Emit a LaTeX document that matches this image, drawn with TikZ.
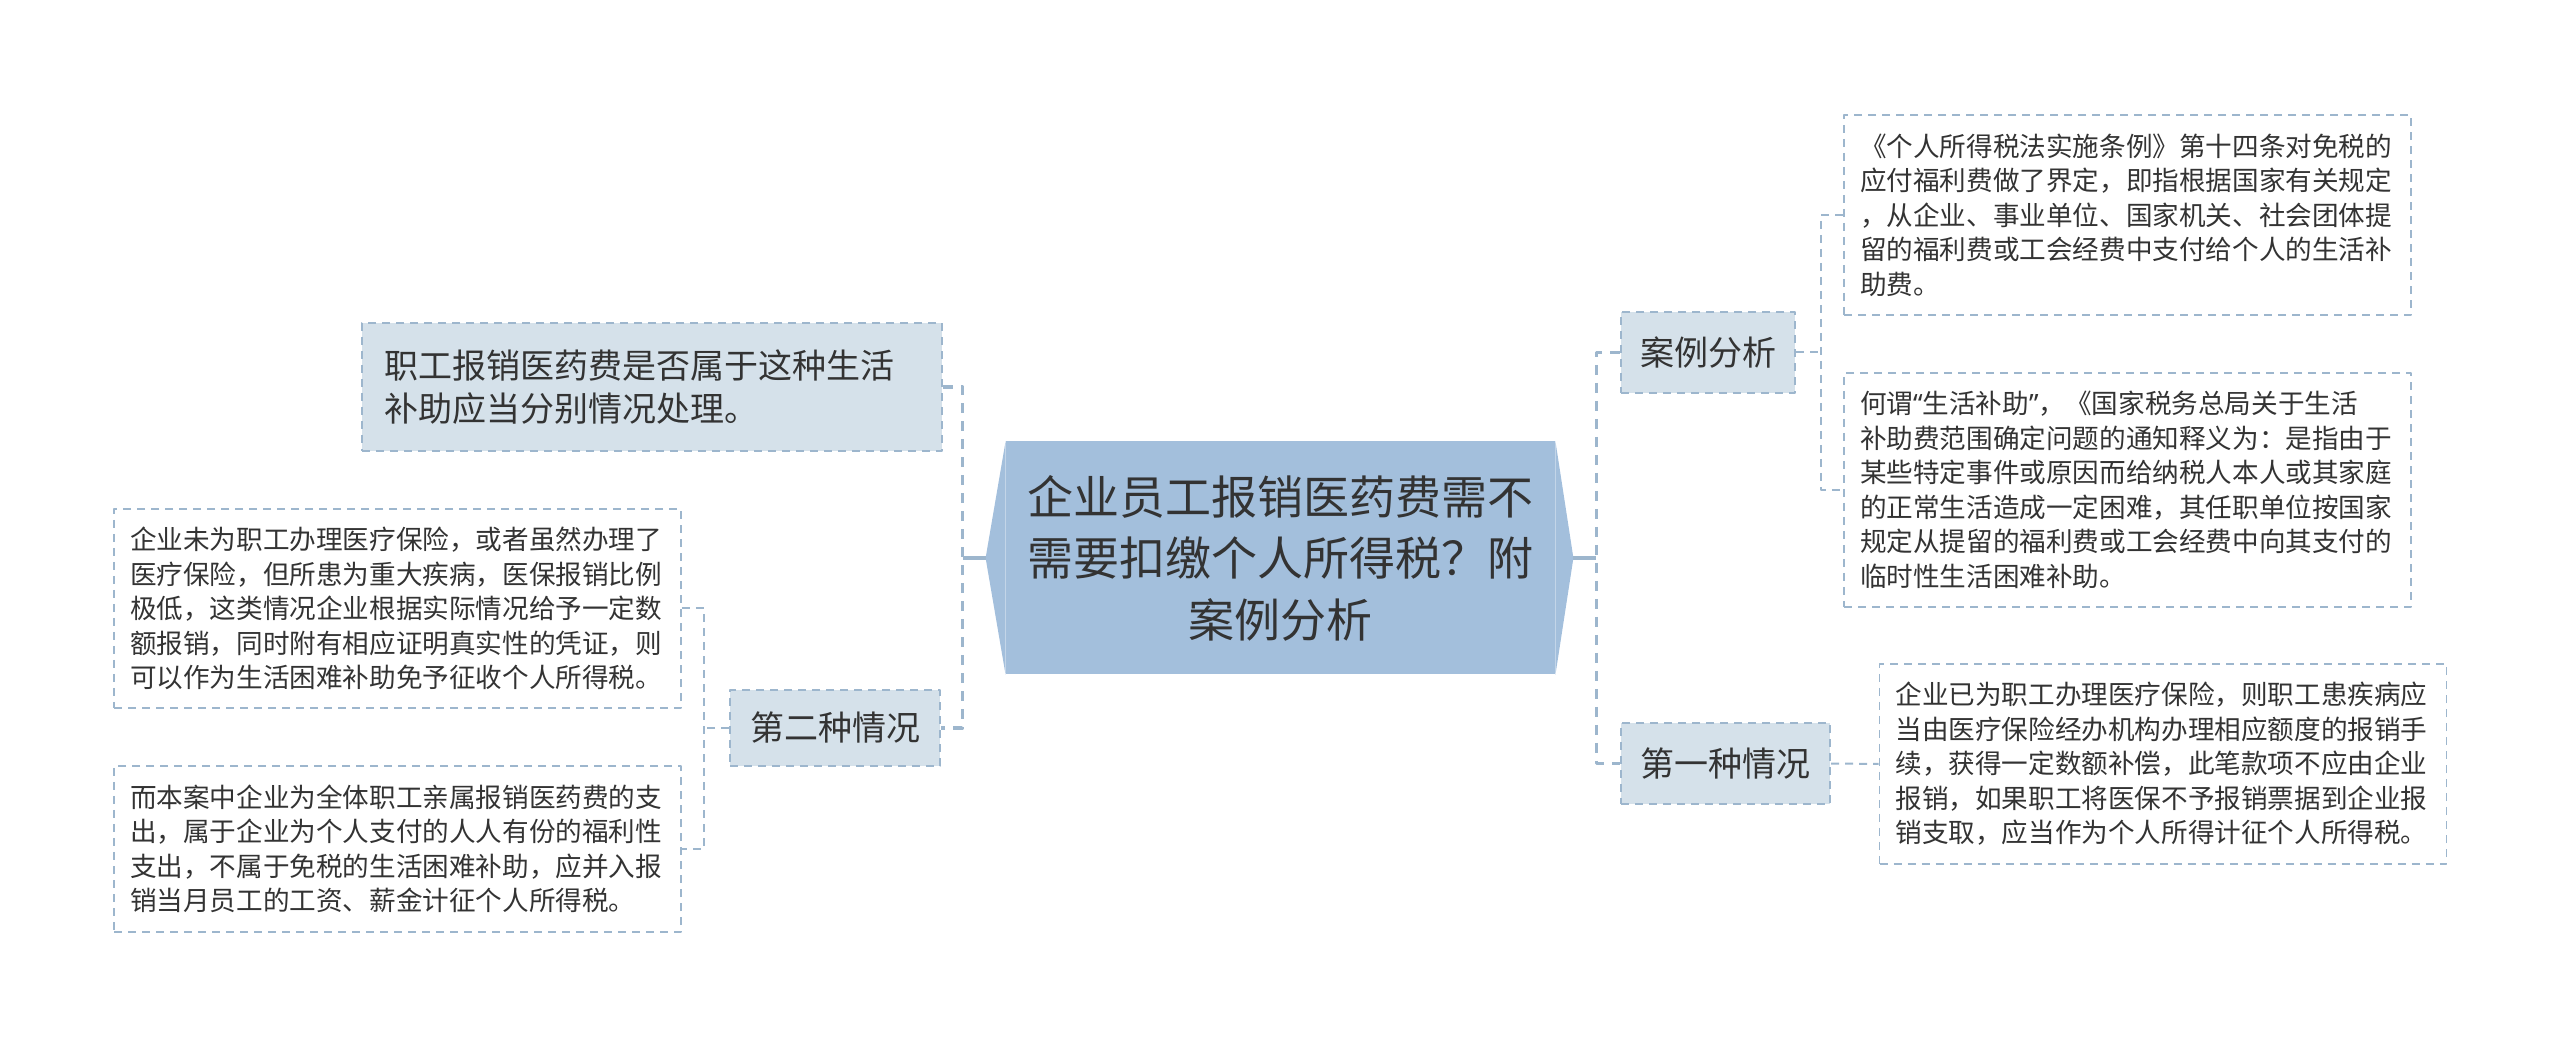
\documentclass[tikz,border=0pt]{standalone}
\usepackage{fontspec}
\setmainfont{Noto Sans CJK SC}
\newfontfamily\latinq{Noto Sans}
\definecolor{rootfill}{HTML}{A3BFDC}
\definecolor{boxfill}{HTML}{D5E1EA}
\definecolor{edge}{HTML}{9DB6CD}
\definecolor{ink}{HTML}{333333}
\begin{document}
\begin{tikzpicture}[x=0.5pt,y=-0.5pt,line join=round,text=ink,
	rootbox/.style={fill=rootfill,inner sep=0pt,align=center,font=\fontsize{23}{30.75}\selectfont},
	midbox/.style={fill=boxfill,draw=edge,line width=1pt,dash pattern=on 4pt off 3pt,inner sep=0pt,align=center,font=\fontsize{17}{21.5}\selectfont},
	leaf/.style={draw=edge,line width=0.8pt,dash pattern=on 4pt off 3pt,inner xsep=8pt,inner ysep=0pt,text width=267.5pt,align=left,font=\fontsize{13.3}{17.25}\selectfont},
	link/.style={draw=edge,line width=1.8pt,dash pattern=on 5pt off 4pt},
	twig/.style={draw=edge,line width=1pt,dash pattern=on 4pt off 3pt},
	stub/.style={draw=edge,line width=1.6pt}]
	\useasboundingbox (0,0) rectangle (2560,1047);
	% centre
	\node[rootbox,minimum width=274.5pt,minimum height=116.5pt] (root) at (1280.5,558) {企业员工报销医药费需不\\需要扣缴个人所得税？附\\案例分析};
	\coordinate (rl) at ([xshift=-10pt]root.west);
	\coordinate (rr) at ([xshift=9pt]root.east);
	\fill[rootfill] (root.north west) -- (rl) -- (root.south west) -- cycle;
	\fill[rootfill] (root.north east) -- (rr) -- (root.south east) -- cycle;
	% left side
	\node[midbox,minimum width=290pt,minimum height=64pt,text width=268pt,align=left] (topL) at (652,387) {职工报销医药费是否属于这种生活\\补助应当分别情况处理。};
	\node[midbox,minimum width=105pt,minimum height=38pt] (case2) at (835,728) {第二种情况};
	\node[leaf,minimum height=99.5pt] (c2a) at (397.5,608.5) {企业未为职工办理医疗保险，或者虽然办理了\\医疗保险，但所患为重大疾病，医保报销比例\\极低，这类情况企业根据实际情况给予一定数\\额报销，同时附有相应证明真实性的凭证，则\\可以作为生活困难补助免予征收个人所得税。};
	\node[leaf,minimum height=83pt] (c2b) at (397.5,849) {而本案中企业为全体职工亲属报销医药费的支\\出，属于企业为个人支付的人人有份的福利性\\支出，不属于免税的生活困难补助，应并入报\\销当月员工的工资、薪金计征个人所得税。};
	% right side
	\node[midbox,minimum width=87pt,minimum height=40.5pt] (anal) at (1708,352.5) {案例分析};
	\node[leaf,minimum height=100pt] (anA) at (2127.5,215) {《个人所得税法实施条例》第十四条对免税的\\应付福利费做了界定，即指根据国家有关规定\\，从企业、事业单位、国家机关、社会团体提\\留的福利费或工会经费中支付给个人的生活补\\助费。};
	\node[leaf,minimum height=117pt] (anB) at (2127.5,490) {何谓{\latinq “}生活补助{\latinq ”}，《国家税务总局关于生活\\补助费范围确定问题的通知释义为：是指由于\\某些特定事件或原因而给纳税人本人或其家庭\\的正常生活造成一定困难，其任职单位按国家\\规定从提留的福利费或工会经费中向其支付的\\临时性生活困难补助。};
	\node[midbox,minimum width=104.5pt,minimum height=40.5pt] (case1) at (1725.5,763.5) {第一种情况};
	\node[leaf,minimum height=100pt] (c1a) at (2163,764) {企业已为职工办理医疗保险，则职工患疾病应\\当由医疗保险经办机构办理相应额度的报销手\\续，获得一定数额补偿，此笔款项不应由企业\\报销，如果职工将医保不予报销票据到企业报\\销支取，应当作为个人所得计征个人所得税。};
	% connectors
	\draw[stub] (rl) -- ++(-23,0) coordinate (jl);
	\draw[link] (topL.east) -| (jl) |- (case2.east);
	\draw[twig] (case2.west) -- ++(-25,0) coordinate (j2);
	\draw[twig] (c2a.east) -| (j2) |- (c2b.east);
	\draw[stub] (rr) -- ++(23,0) coordinate (jr);
	\draw[link] (anal.west) -| (jr) |- (case1.west);
	\draw[twig] (anal.east) -- ++(25,0) coordinate (ja);
	\draw[twig] (anA.west) -| (ja) |- (anB.west);
	\draw[twig] (case1.east) -- (c1a.west);
\end{tikzpicture}
\end{document}
